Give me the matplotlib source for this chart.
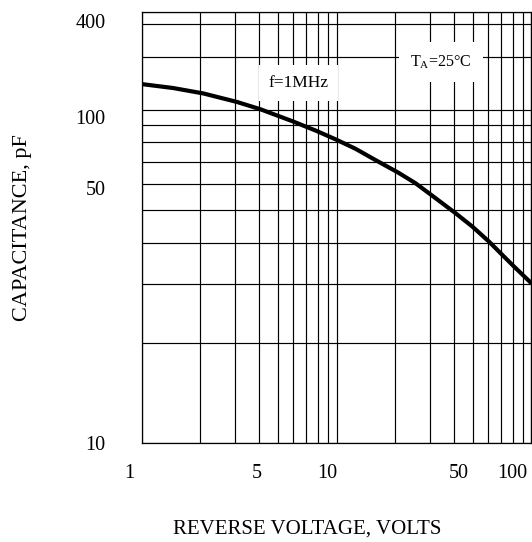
#!/usr/bin/env python3
"""Typical junction capacitance vs reverse voltage (datasheet figure, f=1MHz, TA=25C).

Log-log grid as printed on the sheet: the 10..100 pF decade is a true log decade,
the 100..400 pF band above it is drawn squashed, so the y axis uses a piecewise
log scale (FuncScale) built from the sheet's own grid positions.
"""
import numpy as np
import matplotlib
matplotlib.use("Agg")
import matplotlib.pyplot as plt
from matplotlib.ticker import FixedLocator, FixedFormatter, NullFormatter
from matplotlib.transforms import ScaledTranslation

# --- curve (volts, pF) ----------------------------------------------------------
VOLTS = [1, 1.45, 2.07, 3.08, 4.06, 6.0, 7.9, 9.9, 12.5, 15.8, 20.7, 25.4, 30.6,
         40.8, 49.7, 60.5, 71, 81.4, 100]
CAP_PF = [140, 133, 124, 111, 101, 92.3, 86.5, 81.6, 76.5, 70.8, 64.9, 60.3, 55.6,
          49.0, 44.7, 40.3, 36.7, 33.9, 30.2]

X_MAJOR = [1, 5, 10, 50, 100]
X_LABELS = ["1", "5", "10", "50", "100"]
X_MINOR = [2, 3, 4, 6, 7, 8, 9, 20, 30, 40, 60, 70, 80, 90]
Y_MAJOR = [10, 50, 100, 400]
Y_LABELS = ["10", "50", "100", "400"]
Y_MINOR = [20, 30, 40, 60, 70, 80, 90, 200, 300]

# printed tick labels sit off their grid lines on the sheet (pixels, +right / +up)
X_NUDGE_PX = [-12, -21, -9, -14, -19]
Y_NUDGE_PX = [0, 22, -7, -9]

# piecewise scale: (log10 value) -> (drawn height in decades)
_LOG_K = [0.0, 1.0, 2.0, np.log10(200), np.log10(300), np.log10(400), 4.0]
_POS_K = [0.0, 1.0, 2.0, 2.160, 2.257, 2.293, 3.691]

SERIF = ["Liberation Serif", "DejaVu Serif"]


def _fwd(v):
    v = np.asarray(v, dtype=float)
    return np.interp(np.log10(np.clip(v, 1e-12, None)), _LOG_K, _POS_K)


def _inv(p):
    return 10.0 ** np.interp(np.asarray(p, dtype=float), _POS_K, _LOG_K)


def _nudge(ticks, offsets, fig, axis):
    for tick, d in zip(ticks, offsets):
        dx, dy = (d, 0) if axis == "x" else (0, d)
        off = ScaledTranslation(dx / fig.dpi, dy / fig.dpi, fig.dpi_scale_trans)
        tick.label1.set_transform(tick.label1.get_transform() + off)


def main():
    plt.rcParams["font.family"] = SERIF
    fig = plt.figure(figsize=(5.32, 5.42), dpi=100)
    ax = fig.add_axes([0.2663, 0.1821, 0.7327, 0.7952])

    ax.set_xscale("log")
    ax.set_yscale("function", functions=(_fwd, _inv))
    ax.set_xlim(1, 100)
    ax.set_ylim(10, 400)

    ax.xaxis.set_major_locator(FixedLocator(X_MAJOR))
    ax.xaxis.set_major_formatter(FixedFormatter(X_LABELS))
    ax.xaxis.set_minor_locator(FixedLocator(X_MINOR))
    ax.xaxis.set_minor_formatter(NullFormatter())
    ax.yaxis.set_major_locator(FixedLocator(Y_MAJOR))
    ax.yaxis.set_major_formatter(FixedFormatter(Y_LABELS))
    ax.yaxis.set_minor_locator(FixedLocator(Y_MINOR))
    ax.yaxis.set_minor_formatter(NullFormatter())

    ax.grid(True, which="both", color="k", lw=0.85)
    ax.tick_params(which="both", length=0, labelsize=14.5)
    ax.tick_params(axis="x", pad=15)
    ax.tick_params(axis="y", pad=26)
    for s in ax.spines.values():
        s.set_linewidth(0.9)

    ax.plot(VOLTS, CAP_PF, color="k", lw=3.0, solid_capstyle="butt",
            solid_joinstyle="round", zorder=3)

    box = dict(facecolor="white", edgecolor="none", boxstyle="square,pad=0.55")
    ax.text(6.36, 142, "f=1MHz", fontsize=12.5, ha="center", va="center",
            bbox=box, zorder=4)
    ax.text(34.2, 187, "T$_\\mathregular{A}$=25°C", fontsize=11.5,
            ha="center", va="center",
            bbox=dict(facecolor="white", edgecolor="none",
                      boxstyle="square,pad=0.7"), zorder=4)

    ax.set_xlabel("REVERSE VOLTAGE, VOLTS", fontsize=15)
    ax.set_ylabel("CAPACITANCE, pF", fontsize=16)
    ax.xaxis.set_label_coords(0.4253, -0.178)
    ax.yaxis.set_label_coords(-0.282, 0.50)

    _nudge(ax.xaxis.get_major_ticks(), X_NUDGE_PX, fig, "x")
    _nudge(ax.yaxis.get_major_ticks(), Y_NUDGE_PX, fig, "y")

    fig.savefig("out.png", dpi=100)
    plt.close(fig)


if __name__ == "__main__":
    main()
